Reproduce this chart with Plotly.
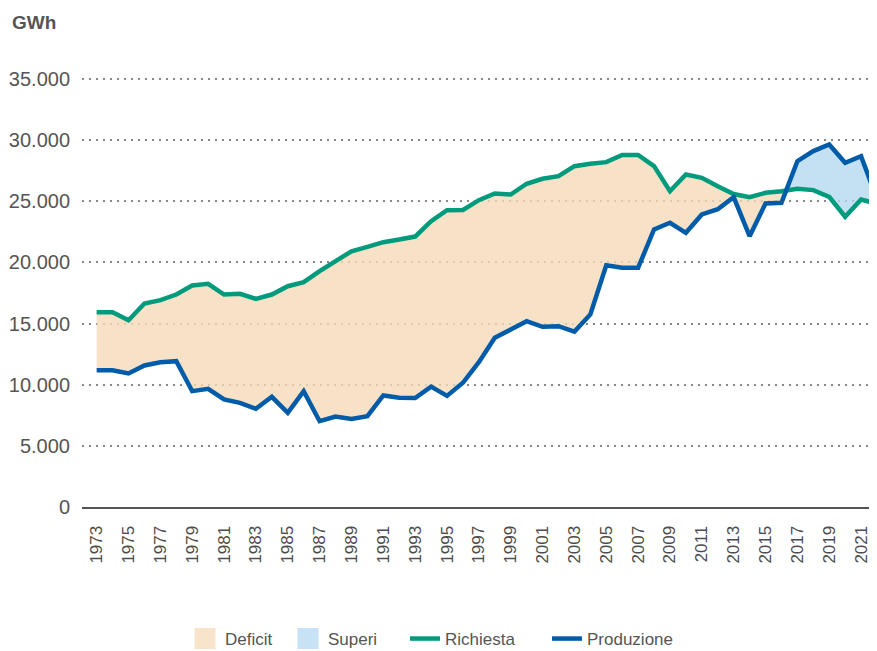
import numpy as np
import plotly.graph_objects as go

# ---------------- data ----------------
years = list(range(1973, 2023))
richiesta = [15930, 15930, 15280, 16650, 16920, 17380, 18120, 18260, 17380, 17440,
             17030, 17380, 18060, 18390, 19290, 20150, 20920, 21280, 21660, 21880,
             22120, 23380, 24280, 24300, 25100, 25640, 25560, 26440, 26850, 27060,
             27880, 28080, 28210, 28790, 28790, 27880, 25830, 27200, 26930, 26240,
             25600, 25340, 25700, 25830, 26030, 25920, 25370, 23740, 25150, 24800]
produzione = [11190, 11190, 10920, 11575, 11845, 11930, 9475, 9670, 8795, 8520,
              8030, 9015, 7705, 9475, 7020, 7400, 7210, 7430, 9120, 8930,
              8910, 9850, 9090, 10160, 11850, 13840, 14520, 15200, 14740, 14790,
              14350, 15750, 19770, 19570, 19570, 22700, 23250, 22430, 23930, 24360,
              25350, 22150, 24830, 24880, 28290, 29110, 29650, 28160, 28700, 25200]
x_tick_years = list(range(1973, 2022, 2))
y_ticks = [0, 5000, 10000, 15000, 20000, 25000, 30000, 35000]
y_tick_labels = ["0", "5.000", "10.000", "15.000", "20.000", "25.000", "30.000", "35.000"]
legend_names = ["Deficit", "Superi", "Richiesta", "Produzione"]

# ---------------- styles ----------------
C_DEF = "rgba(245,218,185,0.78)"
C_DEF_LEG = "#F8E4CB"
C_SUP = "rgba(180,215,240,0.78)"
C_SUP_LEG = "#C7E2F4"
C_RIC = "#009B7C"
C_PRO = "#005BA9"
TXT = "#555555"
TXT_X = "#4d4d4d"
FONT = "Liberation Sans, Arial, sans-serif"

# page body has an 8px margin: the figure is drawn 8px in from the top-left
BODY = 8
FIG_W, FIG_H = 877 - BODY, 651 - BODY
PLOT_L, PLOT_W = 82, 795          # page pixels
PLOT_B, PLOT_H = 507, 434         # page pixels
LEG_Y_PX = 639
legend_px = [185, 288, 405, 547]  # left edge of each legend entry, page pixels


def with_crossings(x, a, b):
    """Insert the points where series a and b cross so fills switch exactly there."""
    xs, aa, bb = [x[0]], [a[0]], [b[0]]
    for i in range(1, len(x)):
        d0 = a[i - 1] - b[i - 1]
        d1 = a[i] - b[i]
        if d0 * d1 < 0:
            t = d0 / (d0 - d1)
            xc = x[i - 1] + t * (x[i] - x[i - 1])
            yc = a[i - 1] + t * (a[i] - a[i - 1])
            xs.append(xc); aa.append(yc); bb.append(yc)
        xs.append(x[i]); aa.append(a[i]); bb.append(b[i])
    return np.array(xs, float), np.array(aa, float), np.array(bb, float)


xs, r_i, p_i = with_crossings(years, richiesta, produzione)
upper = np.maximum(r_i, p_i)

fig = go.Figure()

# legend-only entries for the areas
fig.add_trace(go.Scatter(x=[None], y=[None], mode="markers", name=legend_names[0],
                         legend="legend",
                         marker=dict(symbol="square", size=16, color=C_DEF_LEG,
                                     line=dict(color=C_DEF_LEG, width=5))))
fig.add_trace(go.Scatter(x=[None], y=[None], mode="markers", name=legend_names[1],
                         legend="legend2",
                         marker=dict(symbol="square", size=16, color=C_SUP_LEG,
                                     line=dict(color=C_SUP_LEG, width=5))))

# deficit area (richiesta above produzione)
fig.add_trace(go.Scatter(x=xs, y=p_i, mode="lines", line=dict(width=0),
                         showlegend=False, hoverinfo="skip"))
fig.add_trace(go.Scatter(x=xs, y=upper, mode="lines", line=dict(width=0),
                         fill="tonexty", fillcolor=C_DEF, showlegend=False, hoverinfo="skip"))
# superi area (produzione above richiesta)
fig.add_trace(go.Scatter(x=xs, y=r_i, mode="lines", line=dict(width=0),
                         showlegend=False, hoverinfo="skip"))
fig.add_trace(go.Scatter(x=xs, y=upper, mode="lines", line=dict(width=0),
                         fill="tonexty", fillcolor=C_SUP, showlegend=False, hoverinfo="skip"))

fig.add_trace(go.Scatter(x=years, y=richiesta, mode="lines", name=legend_names[2],
                         legend="legend3", line=dict(color=C_RIC, width=4.5)))
fig.add_trace(go.Scatter(x=years, y=produzione, mode="lines", name=legend_names[3],
                         legend="legend4", line=dict(color=C_PRO, width=4.5)))

leg_common = dict(orientation="h", xanchor="left",
                  y=(PLOT_B - LEG_Y_PX) / PLOT_H, yanchor="middle",
                  font=dict(size=17, color=TXT), bgcolor="rgba(0,0,0,0)",
                  borderwidth=0)
legs = {}
for i, key in enumerate(["legend", "legend2", "legend3", "legend4"]):
    legs[key] = dict(leg_common, x=(legend_px[i] - PLOT_L) / PLOT_W)

m_l = PLOT_L - BODY
m_t = PLOT_B - PLOT_H - BODY
fig.update_layout(
    width=FIG_W, height=FIG_H,
    margin=dict(l=m_l, r=FIG_W - m_l - PLOT_W, t=m_t, b=FIG_H - m_t - PLOT_H,
                pad=0, autoexpand=False),
    paper_bgcolor="white", plot_bgcolor="white",
    font=dict(family=FONT, color=TXT),
    showlegend=True,
    hovermode=False,
    annotations=[dict(text="<b>GWh</b>", xref="paper", yref="paper",
                      x=(10 - PLOT_L) / PLOT_W, y=(PLOT_B - 22) / PLOT_H,
                      xanchor="left", yanchor="middle",
                      showarrow=False, font=dict(size=19, color=TXT, family=FONT))],
    **legs,
)

fig.update_xaxes(
    range=[1972.08, 2022.0], automargin=False,
    tickmode="array", tickvals=x_tick_years, ticktext=[str(y) for y in x_tick_years],
    tickangle=-90, tickfont=dict(size=17, color=TXT_X),
    ticks="outside", ticklen=10, tickcolor="rgba(0,0,0,0)",
    showgrid=False, zeroline=False,
    showline=True, linecolor=TXT, linewidth=2,
)
fig.update_yaxes(
    range=[0, 35500], automargin=False,
    tickmode="array", tickvals=y_ticks, ticktext=y_tick_labels,
    tickfont=dict(size=20, color=TXT),
    ticks="outside", ticklen=7, tickcolor="rgba(0,0,0,0)",
    showgrid=True, gridcolor="#888888", gridwidth=1.5, griddash="2px,5px",
    zeroline=False, showline=False,
)

fig.write_html("out.html")
